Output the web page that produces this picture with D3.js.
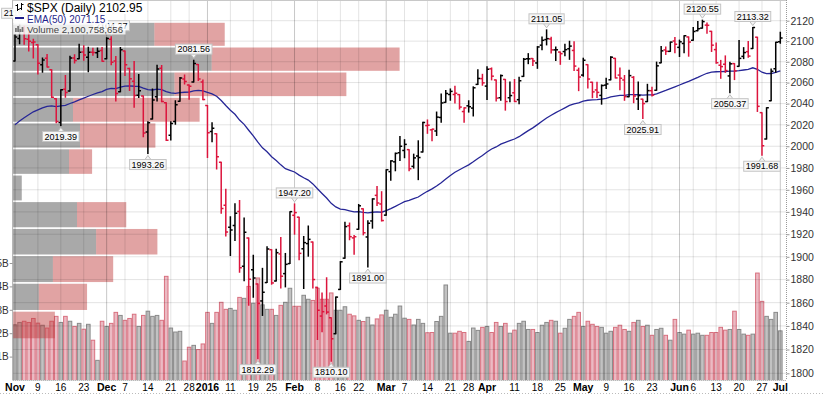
<!DOCTYPE html>
<html>
<head>
<meta charset="utf-8">
<script src="https://cdn.jsdelivr.net/npm/d3@7"></script>
<style>
  body { margin: 0; background: #fff; }
  svg { display: block; font-family: "Liberation Sans", Arial, sans-serif; }
</style>
</head>
<body>
<script>
// Trading days on the chart
var dates = [
  "2015-11-02","2015-11-03","2015-11-04","2015-11-05","2015-11-06","2015-11-09","2015-11-10","2015-11-11","2015-11-12","2015-11-13",
  "2015-11-16","2015-11-17","2015-11-18","2015-11-19","2015-11-20","2015-11-23","2015-11-24","2015-11-25","2015-11-27","2015-11-30",
  "2015-12-01","2015-12-02","2015-12-03","2015-12-04","2015-12-07","2015-12-08","2015-12-09","2015-12-10","2015-12-11","2015-12-14",
  "2015-12-15","2015-12-16","2015-12-17","2015-12-18","2015-12-21","2015-12-22","2015-12-23","2015-12-24","2015-12-28","2015-12-29",
  "2015-12-30","2015-12-31",
  "2016-01-04","2016-01-05","2016-01-06","2016-01-07","2016-01-08","2016-01-11","2016-01-12","2016-01-13","2016-01-14","2016-01-15",
  "2016-01-19","2016-01-20","2016-01-21","2016-01-22","2016-01-25","2016-01-26","2016-01-27","2016-01-28","2016-01-29",
  "2016-02-01","2016-02-02","2016-02-03","2016-02-04","2016-02-05","2016-02-08","2016-02-09","2016-02-10","2016-02-11","2016-02-12",
  "2016-02-16","2016-02-17","2016-02-18","2016-02-19","2016-02-22","2016-02-23","2016-02-24","2016-02-25","2016-02-26","2016-02-29",
  "2016-03-01","2016-03-02","2016-03-03","2016-03-04","2016-03-07","2016-03-08","2016-03-09","2016-03-10","2016-03-11","2016-03-14",
  "2016-03-15","2016-03-16","2016-03-17","2016-03-18","2016-03-21","2016-03-22","2016-03-23","2016-03-24","2016-03-28","2016-03-29",
  "2016-03-30","2016-03-31",
  "2016-04-01","2016-04-04","2016-04-05","2016-04-06","2016-04-07","2016-04-08","2016-04-11","2016-04-12","2016-04-13","2016-04-14",
  "2016-04-15","2016-04-18","2016-04-19","2016-04-20","2016-04-21","2016-04-22","2016-04-25","2016-04-26","2016-04-27","2016-04-28",
  "2016-04-29",
  "2016-05-02","2016-05-03","2016-05-04","2016-05-05","2016-05-06","2016-05-09","2016-05-10","2016-05-11","2016-05-12","2016-05-13",
  "2016-05-16","2016-05-17","2016-05-18","2016-05-19","2016-05-20","2016-05-23","2016-05-24","2016-05-25","2016-05-26","2016-05-27",
  "2016-05-31",
  "2016-06-01","2016-06-02","2016-06-03","2016-06-06","2016-06-07","2016-06-08","2016-06-09","2016-06-10","2016-06-13","2016-06-14",
  "2016-06-15","2016-06-16","2016-06-17","2016-06-20","2016-06-21","2016-06-22","2016-06-23","2016-06-24","2016-06-27","2016-06-28",
  "2016-06-29","2016-06-30",
  "2016-07-01"
];

var openValues = [
  2080.76,2102.63,2110.60,2101.92,2098.60,2096.56,2077.19,2083.41,2072.29,2044.64,2022.08,2053.67,2051.99,2083.70,2082.82,2089.41,2084.42,2089.30,2088.82,2090.95,
  2082.93,2101.71,2080.71,2051.24,2090.42,2073.39,2061.17,2047.93,2047.27,2013.37,2025.55,2046.50,2073.76,2040.81,2010.27,2023.15,2042.20,2063.52,2057.77,2060.54,2077.34,2060.59,
  2038.20,2013.78,2011.71,1985.32,1945.97,1926.12,1927.83,1940.34,1891.68,1916.68,1888.66,1876.18,1861.46,1877.40,1906.28,1878.79,1902.52,1885.22,1894.00,
  1936.94,1935.26,1907.07,1911.67,1913.07,1873.25,1848.46,1857.10,1847.00,1833.40,1871.44,1898.80,1927.57,1916.74,1924.44,1942.77,1917.56,1931.87,1954.95,1947.13,
  1937.09,1976.60,1985.60,1994.01,1996.11,1996.88,1981.44,1990.97,1994.71,2019.27,2015.27,2014.24,2026.90,2041.16,2048.64,2048.64,2048.55,2032.48,2037.89,2035.75,2058.27,2063.77,
  2056.62,2073.19,2062.50,2045.56,2063.01,2045.54,2050.23,2043.72,2065.92,2082.89,2083.10,2078.83,2096.05,2101.52,2102.09,2091.49,2089.37,2089.84,2092.57,2090.93,2071.82,
  2067.17,2077.18,2060.30,2052.95,2047.77,2057.55,2062.63,2083.29,2067.17,2062.50,2046.53,2065.04,2044.38,2044.21,2041.88,2052.23,2052.65,2078.93,2091.44,2090.06,2100.13,
  2093.94,2097.71,2104.07,2100.83,2110.18,2112.71,2115.65,2109.57,2091.75,2076.65,2077.60,2066.36,2078.20,2075.58,2085.19,2089.75,2092.80,2103.81,2031.45,2006.67,2042.69,2073.17,
  2099.34
];

var highValues = [
  2106.20,2116.48,2114.59,2108.78,2101.91,2096.56,2083.67,2086.94,2072.29,2044.64,2053.22,2066.69,2085.31,2086.74,2097.06,2095.61,2094.12,2093.00,2093.29,2093.81,
  2103.37,2104.27,2085.00,2093.84,2090.42,2073.85,2080.33,2067.65,2047.27,2022.92,2053.87,2076.72,2076.37,2040.81,2022.90,2042.74,2064.73,2067.36,2057.77,2081.56,2077.34,2062.54,
  2038.20,2021.94,2011.71,1985.32,1960.40,1935.65,1947.38,1950.33,1934.47,1916.68,1901.44,1876.18,1889.85,1908.85,1906.28,1906.73,1916.99,1902.96,1940.24,
  1947.20,1935.26,1918.01,1927.35,1913.07,1873.25,1868.25,1881.60,1847.00,1864.78,1895.77,1930.68,1930.00,1918.78,1946.70,1942.77,1932.08,1951.83,1962.96,1958.27,
  1978.35,1986.51,1993.69,2009.13,2006.12,1996.88,1992.69,2005.08,2022.37,2024.57,2015.94,2032.02,2049.04,2052.36,2053.91,2056.60,2048.55,2036.04,2042.67,2055.91,2072.21,2067.92,
  2075.07,2074.02,2062.50,2067.33,2063.01,2060.63,2062.93,2065.05,2083.18,2087.84,2083.22,2094.66,2104.05,2111.05,2103.78,2094.32,2089.37,2096.87,2099.89,2099.30,2073.85,
  2083.42,2077.18,2060.30,2060.23,2057.72,2064.15,2084.87,2083.29,2073.99,2066.79,2071.88,2065.69,2060.61,2044.21,2058.35,2055.58,2079.67,2094.73,2094.30,2099.06,2103.48,
  2100.97,2105.26,2104.07,2113.36,2119.22,2120.55,2117.64,2109.57,2098.12,2081.30,2085.65,2079.62,2078.20,2100.66,2093.66,2099.71,2113.32,2103.81,2031.45,2036.09,2073.13,2098.94,
  2108.71
];

var lowValues = [
  2080.76,2097.51,2096.98,2090.41,2083.74,2068.24,2069.91,2074.85,2045.66,2022.02,2019.39,2045.90,2051.99,2078.76,2082.82,2081.39,2070.29,2086.30,2084.13,2080.41,
  2082.93,2077.11,2042.35,2051.24,2066.78,2052.32,2036.53,2045.67,2008.80,1993.26,2025.55,2042.43,2041.66,2005.33,2005.93,2020.49,2042.20,2058.73,2044.20,2060.54,2061.97,2043.62,
  1989.68,2004.17,1979.05,1938.83,1918.46,1901.10,1914.35,1886.41,1878.93,1857.83,1864.60,1812.29,1848.98,1877.40,1875.97,1878.79,1872.70,1873.65,1894.00,
  1920.03,1897.29,1872.23,1900.52,1872.65,1828.46,1834.94,1850.32,1810.10,1833.40,1871.44,1898.80,1915.09,1902.17,1924.44,1919.44,1891.00,1925.41,1945.78,1931.81,
  1937.09,1968.80,1977.37,1986.77,1989.38,1977.43,1979.84,1969.25,1994.71,2012.05,2005.23,2010.04,2022.52,2041.16,2043.14,2040.57,2034.86,2022.49,2031.96,2028.31,2058.27,2057.46,
  2043.98,2062.57,2042.56,2043.09,2033.80,2041.69,2041.88,2039.74,2065.92,2078.13,2076.31,2073.65,2091.68,2096.32,2088.52,2081.20,2077.52,2085.80,2082.31,2071.62,2052.28,
  2066.11,2054.89,2045.55,2045.77,2039.45,2054.31,2062.63,2064.46,2053.13,2043.13,2046.53,2040.82,2034.49,2025.91,2041.88,2047.26,2052.65,2078.93,2087.08,2090.06,2088.66,
  2085.10,2088.59,2085.36,2100.83,2110.18,2112.71,2107.73,2089.96,2078.46,2064.10,2069.80,2050.37,2062.84,2075.58,2083.02,2084.36,2092.80,2032.57,1991.68,2006.67,2042.69,2070.00,
  2097.90
];

var closeValues = [
  2104.05,2109.79,2102.31,2099.93,2099.20,2078.58,2081.72,2075.00,2045.97,2023.04,2053.19,2050.44,2083.58,2081.24,2089.17,2086.59,2089.14,2088.87,2090.11,2080.41,
  2102.63,2079.51,2049.62,2091.69,2077.07,2063.59,2047.62,2052.23,2012.37,2021.94,2043.41,2073.07,2041.89,2005.55,2021.15,2038.97,2064.29,2060.99,2056.50,2078.36,2063.36,2043.94,
  2012.66,2016.71,1990.26,1943.09,1922.03,1923.67,1938.68,1890.28,1921.84,1880.33,1881.33,1859.33,1868.99,1906.90,1877.08,1903.63,1882.95,1893.36,1940.24,
  1939.38,1903.03,1912.53,1915.45,1880.05,1853.44,1852.21,1851.86,1829.08,1864.78,1895.58,1926.82,1917.83,1917.78,1945.50,1921.27,1929.80,1951.70,1948.05,1932.23,
  1978.35,1986.45,1993.40,1999.99,2001.76,1979.26,1989.26,1989.57,2022.19,2019.64,2015.93,2027.22,2040.59,2049.58,2051.60,2049.80,2036.71,2035.94,2037.05,2055.01,2063.95,2059.74,
  2072.78,2066.13,2045.17,2066.66,2041.91,2047.60,2041.99,2061.72,2082.42,2082.78,2080.73,2094.34,2100.80,2102.40,2091.48,2091.58,2087.79,2091.70,2095.15,2075.81,2065.30,
  2081.43,2063.37,2051.12,2050.63,2057.14,2058.69,2084.39,2064.46,2064.11,2046.61,2066.66,2047.21,2047.63,2040.04,2052.32,2048.04,2076.06,2090.54,2090.10,2099.06,2096.95,
  2099.33,2105.26,2099.13,2109.41,2112.13,2119.12,2115.48,2096.07,2079.06,2075.32,2071.50,2077.99,2071.22,2083.25,2088.90,2085.45,2113.32,2037.41,2000.54,2036.09,2070.77,2098.86,
  2102.95
];

// Volume, billions of shares
var volumeValues = [
  2.36,2.46,2.51,2.46,2.63,2.43,2.34,2.22,2.51,2.72,2.46,2.72,2.51,2.29,2.42,2.17,2.38,1.70,0.84,2.51,
  2.29,2.42,2.89,2.76,2.55,2.63,2.81,2.29,2.76,2.94,2.72,2.76,2.55,4.43,2.22,2.05,2.08,0.81,1.40,1.48,1.30,1.54,
  2.89,2.42,2.89,3.32,3.02,3.06,2.98,3.53,3.49,4.00,3.28,4.36,3.21,3.02,3.02,2.76,3.19,3.32,3.92,
  3.15,3.15,3.62,3.45,3.40,3.92,3.45,3.45,3.72,2.98,2.98,3.13,2.81,2.74,2.55,2.50,2.68,2.35,2.61,2.78,
  2.98,2.68,2.81,3.16,2.64,2.59,2.35,2.59,2.42,2.02,2.03,2.50,2.72,4.06,2.00,2.00,2.08,2.03,1.65,2.22,2.12,2.25,
  2.29,2.03,2.46,2.29,2.42,2.00,2.13,2.42,2.51,2.16,2.16,2.03,2.34,2.46,2.55,2.51,2.00,2.21,2.59,2.72,2.89,
  2.29,2.51,2.38,2.29,2.25,2.00,2.08,2.25,2.34,2.16,2.08,2.46,2.55,2.29,2.34,1.91,2.16,2.21,1.91,1.70,2.59,
  2.03,1.96,2.13,1.96,2.00,1.91,1.91,2.03,2.03,2.25,2.13,2.16,2.94,2.16,1.96,1.91,1.96,4.57,3.36,2.72,2.59,2.89,
  2.10
];

var priorClose = 2079.36;   // close before the first bar, colours the first bar
var emaFirst = 2020;        // EMA(50) value at the first bar

// Volume by price: 12 zones from lowest to highest close, bottom zone first
var vbpLow = 1829.08;
var vbpHigh = 2119.12;
var vbpUp   = [0, 6.75, 10.39, 21.56, 16.62, 2.34, 14.55, 17.40, 15.58, 41.82, 51.43, 36.62];
var vbpDown = [10.90, 12.47, 15.58, 15.84, 12.73, 0, 5.97, 19.48, 32.73, 44.42, 48.57, 18.18];

// Axis ticks
var priceTicks = [1800,1820,1840,1860,1880,1900,1920,1940,1960,1980,2000,2020,2040,2060,2080,2100,2120];
var volumeTicks = [1, 2, 3, 4, 5];
var tickDates = ["2015-11-02","2015-11-09","2015-11-16","2015-11-23","2015-12-01","2015-12-07","2015-12-14","2015-12-21","2015-12-28",
  "2016-01-04","2016-01-11","2016-01-19","2016-01-25","2016-02-01","2016-02-08","2016-02-16","2016-02-22","2016-03-01","2016-03-07",
  "2016-03-14","2016-03-21","2016-03-28","2016-04-01","2016-04-11","2016-04-18","2016-04-25","2016-05-02","2016-05-09","2016-05-16",
  "2016-05-23","2016-06-01","2016-06-06","2016-06-13","2016-06-20","2016-06-27","2016-07-01"];
var tickLabels = ["Nov","9","16","23","Dec","7","14","21","28","2016","11","19","25","Feb","8","16","22","Mar","7",
  "14","21","28","Apr","11","18","25","May","9","16","23","Jun","6","13","20","27","Jul"];

// Marked highs and lows
var noteDates = ["2015-11-03","2015-11-16","2015-12-02","2015-12-14","2015-12-29","2016-01-20","2016-02-01","2016-02-11",
  "2016-02-24","2016-04-20","2016-05-19","2016-06-08","2016-06-16","2016-06-23","2016-06-27"];
var noteValues = [2116.48,2019.39,2104.27,1993.26,2081.56,1812.29,1947.20,1810.10,1891.00,2111.05,2025.91,2120.55,2050.37,2113.32,1991.68];
var noteKinds = ["high","low","high","low","high","low","high","low","low","high","low","high","low","high","low"];

// Legend texts
var legendSymbol = "$SPX (Daily) 2102.95";
var legendEma = "EMA(50) 2071.15";
var legendVolume = "Volume 2,100,758,656";

// ---------------------------------------------------------------
var svgWidth = 823;
var svgHeight = 394;
var plotLeft = 12.7, plotRight = 786.5, plotTop = 0, plotBottom = 380;

var svg = d3.select("body").append("svg")
  .attr("width", svgWidth)
  .attr("height", svgHeight);

svg.append("rect").attr("width", svgWidth).attr("height", svgHeight).attr("fill", "#fff");

svg.append("defs").append("clipPath").attr("id", "plotClip")
  .append("rect")
  .attr("x", plotLeft).attr("y", plotTop)
  .attr("width", plotRight - plotLeft).attr("height", plotBottom - plotTop);

// Scales
var xScale = d3.scaleBand().domain(dates).range([plotLeft, 782.6]).padding(0);
var bw = xScale.bandwidth();
function cx(d) { return xScale(d) + bw / 2; }

var yScale = d3.scaleLog().domain([1800, 2120]).range([373.3, 20.7]);
var yVolume = d3.scaleLinear().domain([0, 5]).range([plotBottom, 263]);

var bars = dates.map(function (d, i) {
  var prev = i ? closeValues[i - 1] : priorClose;
  return {
    date: d, open: openValues[i], high: highValues[i], low: lowValues[i],
    close: closeValues[i], volume: volumeValues[i], up: closeValues[i] >= prev
  };
});

var plotGroup = svg.append("g").attr("clip-path", "url(#plotClip)");

// Volume bars
plotGroup.append("g").selectAll("rect")
  .data(bars)
  .enter().append("rect")
  .attr("x", function (d) { return xScale(d.date) + 0.5; })
  .attr("y", function (d) { return yVolume(d.volume); })
  .attr("width", bw - 1)
  .attr("height", function (d) { return plotBottom - yVolume(d.volume) + 1; })
  .attr("fill", function (d) { return d.up ? "#c2c2c2" : "#ebbac3"; })
  .attr("stroke", function (d) { return d.up ? "#8a8a8a" : "#d8707f"; })
  .attr("stroke-width", 1);

// Volume by price bars
var zoneStep = (vbpHigh - vbpLow) / vbpUp.length;
var zones = vbpUp.map(function (u, i) {
  return { lo: vbpLow + i * zoneStep, hi: vbpLow + (i + 1) * zoneStep, up: u, down: vbpDown[i] };
});
var vbpScale = d3.scaleLinear()
  .domain([0, d3.max(zones, function (z) { return z.up + z.down; })])
  .range([0, (plotRight - plotLeft) / 2]);

var vbpGroup = plotGroup.append("g");
vbpGroup.selectAll("rect.vbp-up")
  .data(zones)
  .enter().append("rect")
  .attr("class", "vbp-up")
  .attr("x", plotLeft)
  .attr("y", function (z) { return yScale(z.hi) + 1.2; })
  .attr("width", function (z) { return vbpScale(z.up); })
  .attr("height", function (z) { return yScale(z.lo) - yScale(z.hi) - 1.7; })
  .attr("fill", "#808080")
  .attr("fill-opacity", 0.68);
vbpGroup.selectAll("rect.vbp-down")
  .data(zones)
  .enter().append("rect")
  .attr("class", "vbp-down")
  .attr("x", function (z) { return plotLeft + vbpScale(z.up); })
  .attr("y", function (z) { return yScale(z.hi) + 1.2; })
  .attr("width", function (z) { return vbpScale(z.down); })
  .attr("height", function (z) { return yScale(z.lo) - yScale(z.hi) - 1.7; })
  .attr("fill", "#c03c3c")
  .attr("fill-opacity", 0.47);

// Grid lines
var grid = plotGroup.append("g");
grid.selectAll("line.h")
  .data(priceTicks)
  .enter().append("line")
  .attr("x1", plotLeft).attr("x2", plotRight)
  .attr("y1", function (v) { return yScale(v); })
  .attr("y2", function (v) { return yScale(v); })
  .attr("stroke", "#000").attr("stroke-opacity", 0.11);
grid.selectAll("line.v")
  .data(tickDates)
  .enter().append("line")
  .attr("x1", cx).attr("x2", cx)
  .attr("y1", plotTop).attr("y2", plotBottom)
  .attr("stroke", "#000")
  .attr("stroke-opacity", function (d, i) { return isNaN(+tickLabels[i]) || tickLabels[i].length === 4 ? 0.22 : 0.11; });

// EMA(50) from the closes
var emaValues = [];
closeValues.forEach(function (c, i) {
  emaValues.push(i === 0 ? emaFirst : emaValues[i - 1] + (2 / 51) * (c - emaValues[i - 1]));
});
var drawLine = d3.line()
  .x(function (d, i) { return cx(dates[i]); })
  .y(function (d) { return yScale(d); });
plotGroup.append("path")
  .attr("d", drawLine(emaValues))
  .attr("fill", "none")
  .attr("stroke", "#262696")
  .attr("stroke-width", 1.3);

// OHLC bars
var tick = bw * 0.5;
var ohlc = plotGroup.append("g").selectAll("g")
  .data(bars)
  .enter().append("g")
  .attr("stroke", function (d) { return d.up ? "#000" : "#dc143c"; })
  .attr("stroke-width", 1.5);
ohlc.append("line")
  .attr("x1", function (d) { return cx(d.date); })
  .attr("x2", function (d) { return cx(d.date); })
  .attr("y1", function (d) { return yScale(d.high) - 0.5; })
  .attr("y2", function (d) { return yScale(d.low) + 0.5; });
ohlc.append("line")
  .attr("x1", function (d) { return cx(d.date) - tick; })
  .attr("x2", function (d) { return cx(d.date); })
  .attr("y1", function (d) { return yScale(d.open); })
  .attr("y2", function (d) { return yScale(d.open); });
ohlc.append("line")
  .attr("x1", function (d) { return cx(d.date); })
  .attr("x2", function (d) { return cx(d.date) + tick; })
  .attr("y1", function (d) { return yScale(d.close); })
  .attr("y2", function (d) { return yScale(d.close); });

// Borders
svg.append("line").attr("x1", plotLeft).attr("x2", plotLeft).attr("y1", 0).attr("y2", plotBottom)
  .attr("stroke", "#a8a8a8");
svg.append("line").attr("x1", plotLeft).attr("x2", plotRight).attr("y1", 0.5).attr("y2", 0.5)
  .attr("stroke", "#c8c8c8");
svg.append("line").attr("x1", plotRight).attr("x2", plotRight).attr("y1", 0).attr("y2", plotBottom)
  .attr("stroke", "#999").attr("stroke-dasharray", "1,1");
svg.append("line").attr("x1", plotLeft).attr("x2", plotRight).attr("y1", plotBottom + 0.5).attr("y2", plotBottom + 0.5)
  .attr("stroke", "#999").attr("stroke-dasharray", "1,1");
svg.append("line").attr("x1", 0).attr("x2", svgWidth).attr("y1", 393.5).attr("y2", 393.5)
  .attr("stroke", "#bbb").attr("stroke-dasharray", "1,2");

// Right price axis
var rightAxis = d3.axisRight(yScale).tickValues(priceTicks).tickFormat(d3.format("d")).tickSize(3).tickPadding(1);
svg.append("g")
  .attr("transform", "translate(" + plotRight + ",0)")
  .call(rightAxis)
  .call(function (g) { g.select(".domain").remove(); })
  .call(function (g) {
    g.selectAll("line").attr("stroke", "#999");
    g.selectAll("text").attr("font-size", 10.5).attr("fill", "#333")
      .attr("font-family", "'Liberation Sans', Arial, sans-serif");
  });

// Left volume axis
var leftAxis = d3.axisLeft(yVolume).tickValues(volumeTicks).tickFormat(function (d) { return d + "B"; })
  .tickSize(3).tickPadding(1);
svg.append("g")
  .attr("transform", "translate(" + plotLeft + ",0)")
  .call(leftAxis)
  .call(function (g) { g.select(".domain").remove(); })
  .call(function (g) {
    g.selectAll("line").attr("stroke", "#999");
    g.selectAll("text").attr("font-size", 10).attr("fill", "#333")
      .attr("font-family", "'Liberation Sans', Arial, sans-serif");
  });

// Bottom date axis
var bottomAxis = d3.axisBottom(xScale).tickValues(tickDates)
  .tickFormat(function (d, i) { return tickLabels[i]; })
  .tickSize(0).tickPadding(4);
svg.append("g")
  .attr("transform", "translate(0," + plotBottom + ")")
  .call(bottomAxis)
  .call(function (g) { g.select(".domain").remove(); })
  .call(function (g) {
    g.selectAll("text")
      .attr("font-family", "'Liberation Sans', Arial, sans-serif")
      .attr("fill", "#000")
      .attr("font-size", function (d, i) { return isNaN(+tickLabels[i]) || tickLabels[i].length === 4 ? 10.5 : 10; })
      .attr("font-weight", function (d, i) { return isNaN(+tickLabels[i]) || tickLabels[i].length === 4 ? "bold" : "normal"; });
  });

// High / low notes
var notes = svg.append("g").selectAll("g")
  .data(noteDates)
  .enter().append("g");
notes.each(function (d, i) {
  var g = d3.select(this);
  var x = cx(d);
  var py = yScale(noteValues[i]);
  var isHigh = noteKinds[i] === "high";
  var boxTop = isHigh ? py - 16 : py + 6;
  var label = noteValues[i].toFixed(2);
  var txt = g.append("text")
    .attr("x", x).attr("y", boxTop + 8.2)
    .attr("text-anchor", "middle")
    .attr("font-size", 9).attr("fill", "#000")
    .text(label);
  var w = txt.node().getComputedTextLength() + 4;
  var tri = isHigh
    ? "M" + (x - 3) + "," + (boxTop + 10) + "L" + x + "," + (boxTop + 14) + "L" + (x + 3) + "," + (boxTop + 10)
    : "M" + (x - 3) + "," + boxTop + "L" + x + "," + (boxTop - 4) + "L" + (x + 3) + "," + boxTop;
  g.insert("path", "text").attr("d", tri).attr("fill", "#f4f4f4").attr("stroke", "#bdbdbd");
  g.insert("rect", "text")
    .attr("x", x - w / 2).attr("y", boxTop)
    .attr("width", w).attr("height", 10)
    .attr("fill", "#f7f7f7").attr("stroke", "#c4c4c4");
});

// Legend
var legend = svg.append("g");
function legendLine(yBase, text, size, color, bgOpacity) {
  var t = legend.append("text").attr("x", 27).attr("y", yBase)
    .attr("font-size", size).attr("fill", color).text(text);
  var w = t.node().getComputedTextLength();
  legend.insert("rect", "text")
    .attr("x", plotLeft + 0.5).attr("y", yBase - size + 1)
    .attr("width", 27 - plotLeft + w + 2).attr("height", size + 1)
    .attr("fill", "#fff").attr("fill-opacity", bgOpacity);
}
legendLine(12, legendSymbol, 12, "#000", 0.95);
legendLine(22.5, legendEma, 10, "#1f1f8c", 0.95);
legendLine(32.5, legendVolume, 9.6, "#444", 0.8);

// Legend icons
var icon = legend.append("g").attr("stroke", "#000").attr("stroke-width", 1);
icon.append("line").attr("x1", 17.5).attr("x2", 17.5).attr("y1", 4).attr("y2", 11);
icon.append("line").attr("x1", 15.5).attr("x2", 17.5).attr("y1", 5.5).attr("y2", 5.5);
icon.append("line").attr("x1", 17.5).attr("x2", 19.5).attr("y1", 9.5).attr("y2", 9.5);
icon.append("line").attr("x1", 21.5).attr("x2", 21.5).attr("y1", 3).attr("y2", 10);
icon.append("line").attr("x1", 19.5).attr("x2", 21.5).attr("y1", 8.5).attr("y2", 8.5);
icon.append("line").attr("x1", 21.5).attr("x2", 23.5).attr("y1", 4.5).attr("y2", 4.5);
legend.append("line").attr("x1", 15).attr("x2", 24).attr("y1", 18).attr("y2", 18)
  .attr("stroke", "#1f1f8c").attr("stroke-width", 2);
legend.selectAll("rect.vicon")
  .data([4, 6, 3, 5])
  .enter().append("rect")
  .attr("class", "vicon")
  .attr("x", function (d, i) { return 15 + i * 2.2; })
  .attr("y", function (d) { return 32 - d; })
  .attr("width", 1.8)
  .attr("height", function (d) { return d; })
  .attr("fill", "#777");
</script>
</body>
</html>
